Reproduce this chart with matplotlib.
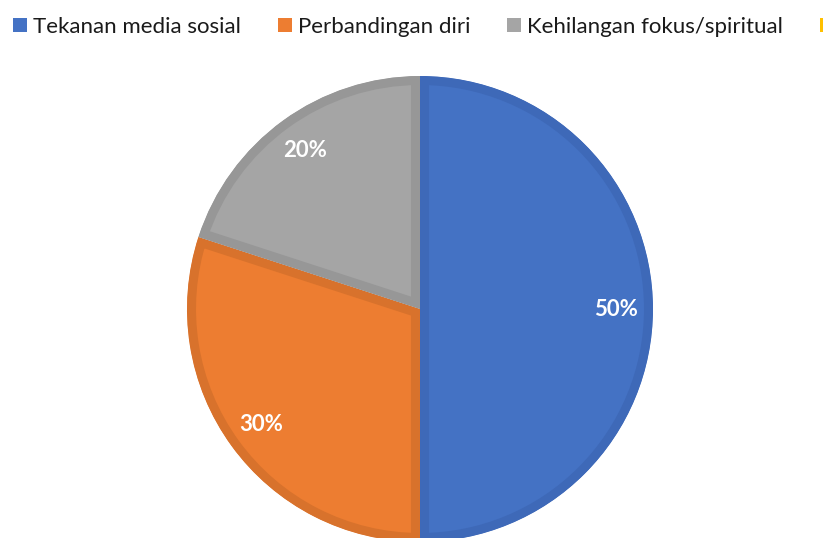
import matplotlib
matplotlib.use("Agg")
import matplotlib.pyplot as plt
from matplotlib.patches import Rectangle

categories = ["Tekanan media sosial", "Perbandingan diri", "Kehilangan fokus/spiritual", "Lainnya"]
values = [50, 30, 20, 0]
colors = ["#4472C4", "#ED7D31", "#A5A5A5", "#FFC000"]
edge_colors = ["#3E69B8", "#D8722C", "#979797", "#E8AF00"]

W, H, DPI = 823, 538, 100
fig = plt.figure(figsize=(W / DPI, H / DPI), dpi=DPI)
ax = fig.add_axes([0, 0, 1, 1])

cx, cy, R = 420, 309, 233  # pixel layout of pie
pie_vals = [v for v in values if v > 0]
pie_cols = [c for v, c in zip(values, colors) if v > 0]
pie_edges = [c for v, c in zip(values, edge_colors) if v > 0]

wedges, texts, autotexts = ax.pie(
    pie_vals, colors=pie_cols, startangle=90, counterclock=False,
    autopct=lambda p: f"{p:.0f}%", pctdistance=0.84, radius=1,
    wedgeprops=dict(linewidth=0),
    textprops=dict(color="white", fontsize=16, fontweight="bold", family=["Lato", "DejaVu Sans"]),
)
for w, ec in zip(wedges, pie_edges):
    w.set_edgecolor(ec)
    w.set_linewidth(13)
    w.set_joinstyle("miter")
    w.set_clip_on(True)
    w.set_clip_path(w)

ax.set_aspect("auto")
ax.set_xlim(-cx / R, (W - cx) / R)
ax.set_ylim(-(H - cy) / R, cy / R)
ax.axis("off")

# legend (drawn in figure pixel coords)
fig.canvas.draw()
renderer = fig.canvas.get_renderer()
x = 13
ymid = H - 25
sq = 14
for cat, col in zip(categories, colors):
    fig.patches.append(Rectangle((x / W, (ymid - sq / 2) / H), sq / W, sq / H,
                                 transform=fig.transFigure, facecolor=col, edgecolor="none"))
    t = fig.text((x + sq + 6) / W, ymid / H, cat, fontsize=16, color="#1a1a1a",
                 va="center_baseline", ha="left", family=["Lato", "DejaVu Sans"])
    bb = t.get_window_extent(renderer)
    x = bb.x1 + 37

fig.savefig("out.png", dpi=DPI)
